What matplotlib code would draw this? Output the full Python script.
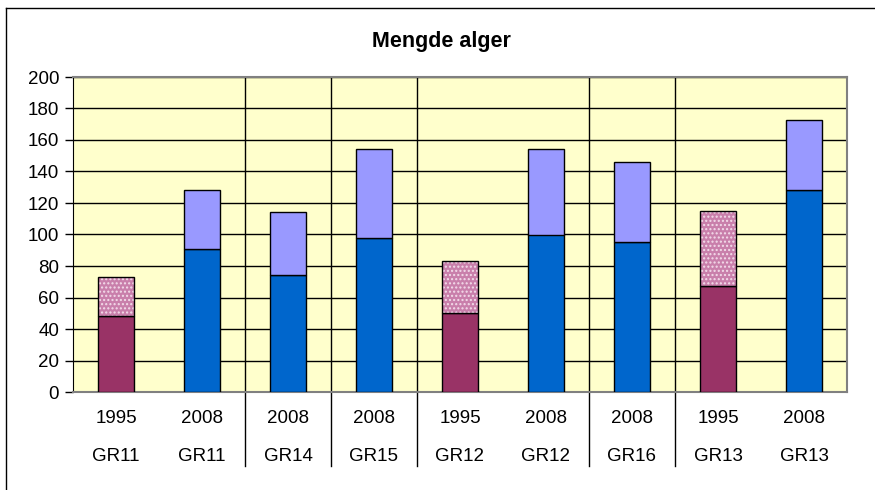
import matplotlib
matplotlib.use('Agg')
import matplotlib.pyplot as plt
from matplotlib.lines import Line2D

plt.rcParams['font.family'] = ['Liberation Sans', 'DejaVu Sans']

# data
years = ['1995', '2008', '2008', '2008', '1995', '2008', '2008', '1995', '2008']
sites = ['GR11', 'GR11', 'GR14', 'GR15', 'GR12', 'GR12', 'GR16', 'GR13', 'GR13']
bottom_vals = [48, 91, 74, 98, 50, 100, 95, 67, 128]
total_vals = [73, 128, 114, 154, 83, 154, 146, 115, 173]
group_breaks = [1.5, 2.5, 3.5, 5.5, 6.5]

fig = plt.figure(figsize=(8.75, 4.9), dpi=100)
ax = fig.add_axes([73 / 875, 1 - 392 / 490, 774 / 875, 315 / 490])
ax.set_facecolor('#FFFFCC')

x = list(range(len(years)))
w = 0.43
top_vals = [t - b for t, b in zip(total_vals, bottom_vals)]

for i in x:
    if years[i] == '1995':
        ax.bar(i, bottom_vals[i], w, color='#993366', edgecolor='black', linewidth=1, zorder=3)
        # checkered top part
        ax.bar(i, top_vals[i], w, bottom=bottom_vals[i], color='#c97fab', edgecolor='#f3dcea',
               hatch='....', linewidth=0, zorder=3)
        ax.bar(i, top_vals[i], w, bottom=bottom_vals[i], fill=False, edgecolor='black',
               linewidth=1, zorder=4)
    else:
        ax.bar(i, bottom_vals[i], w, color='#0066CC', edgecolor='black', linewidth=1, zorder=3)
        ax.bar(i, top_vals[i], w, bottom=bottom_vals[i], color='#9999FF', edgecolor='black',
               linewidth=1, zorder=3)

ax.set_xlim(-0.5, len(years) - 0.5)
ax.set_ylim(0, 200)
ax.set_yticks(range(0, 201, 20))
ax.tick_params(axis='y', labelsize=13.5, length=6, width=1, direction='out', pad=4)
ax.set_xticks([])
ax.grid(axis='y', color='black', linewidth=1, zorder=1)

for s in ['top', 'right', 'bottom']:
    ax.spines[s].set_color('#808080')
    ax.spines[s].set_linewidth(1.5)
ax.spines['left'].set_color('black')

# vertical separators between the site groups, running down through the labels
for b in group_breaks:
    ax.plot([b, b], [1, -0.235], color='black', linewidth=1,
            transform=ax.get_xaxis_transform(), clip_on=False, zorder=2)

for i in x:
    ax.text(i, -0.085, years[i], transform=ax.get_xaxis_transform(), ha='center', va='center', fontsize=13.5)
    ax.text(i, -0.205, sites[i], transform=ax.get_xaxis_transform(), ha='center', va='center', fontsize=13.5)

fig.text(441 / 875, 1 - 42 / 490, 'Mengde alger', ha='center', va='center',
         fontsize=15.5, fontweight='bold')

# outer chart border (only top and left visible in the crop)
fig.add_artist(Line2D([6 / 875, 874 / 875], [1 - 8 / 490, 1 - 8 / 490], color='black', linewidth=1,
                      transform=fig.transFigure))
fig.add_artist(Line2D([6 / 875, 6 / 875], [1 - 8 / 490, 0], color='black', linewidth=1,
                      transform=fig.transFigure))

fig.savefig('out.png', dpi=100)
